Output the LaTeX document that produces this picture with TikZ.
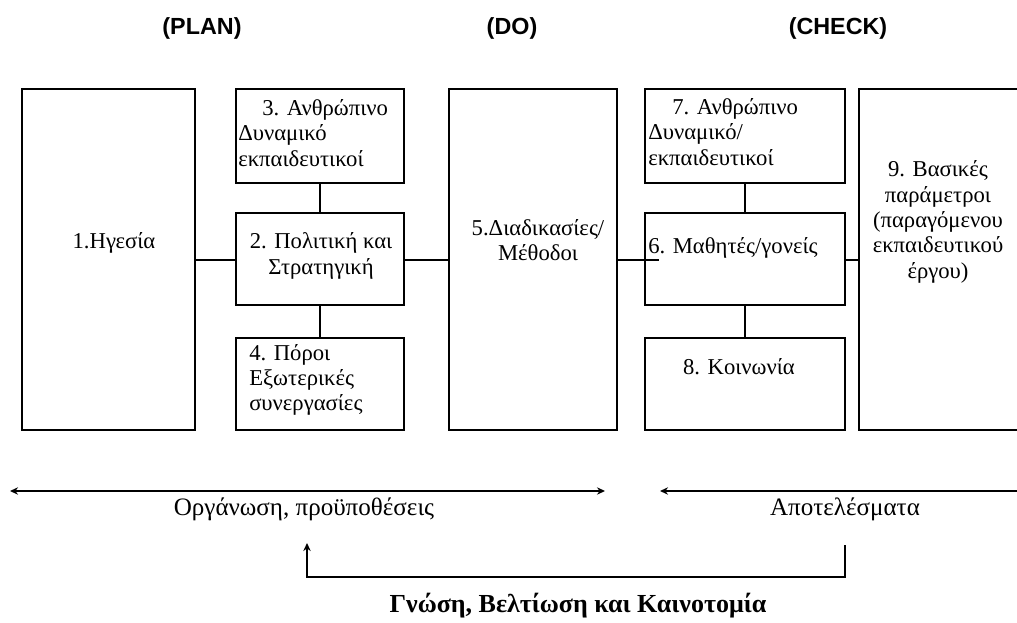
\documentclass[tikz,border=0pt]{standalone}
\usepackage{fontspec}
\setmainfont{Liberation Serif}
\newfontfamily\hdrfont{Liberation Sans}
\usetikzlibrary{arrows.meta}
\begin{document}
\begin{tikzpicture}[x=0.75pt,y=-0.75pt,
  box/.style 2 args={draw, line width=1.3pt, rectangle, inner sep=0pt,
     minimum width=#1*0.75pt, minimum height=#2*0.75pt},
  txt/.style={inner sep=0pt, font=\fontsize{17}{19}\selectfont},
  lbl/.style={inner sep=0pt, font=\fontsize{18.8}{21}\selectfont},
  hdr/.style={inner sep=0pt, font=\hdrfont\bfseries\fontsize{17.5}{20}\selectfont},
  conn/.style={line width=1.4pt},
  arr/.style={line width=1.3pt, -{Stealth[length=6pt,width=5.5pt]}},
  darr/.style={line width=1.3pt, {Stealth[length=6pt,width=5.5pt]}-{Stealth[length=6pt,width=5.5pt]}}
]
\useasboundingbox (0,0) rectangle (1017,623);
\clip (0,0) rectangle (1017,623);
% headers
\node[hdr] (hplan) at (202,28) {(PLAN)};
\node[hdr] (hdo) at (512,28) {(DO)};
\node[hdr] (hcheck) at (838,28) {(CHECK)};
% boxes
\node[box={173}{341}] (b1) at (108.5,259.5) {};
\node[box={168}{94}] (b3) at (320,136) {};
\node[box={168}{92}] (b2) at (320,259) {};
\node[box={168}{92}] (b4) at (320,384) {};
\node[box={168}{341}] (b5) at (533,259.5) {};
\node[box={200}{94}] (b7) at (745,136) {};
\node[box={200}{92}] (b6) at (745,259) {};
\node[box={200}{92}] (b8) at (745,384) {};
\node[box={200}{341}, anchor=west] (b9) at (858,259.5) {};
% texts
\node[txt] (t1) at (114,243) {1.Ηγεσία};
\node[txt, align=left, anchor=west] (t3) at (238,133) {\hspace*{18pt}3. Ανθρώπινο\\Δυναμικό\\εκπαιδευτικοί};
\node[txt, align=center] (t2) at (321,256) {2. Πολιτική και\\Στρατηγική};
\node[txt, align=left, anchor=west] (t4) at (249,380) {4. Πόροι\\Εξωτερικές\\συνεργασίες};
\node[txt, align=center] (t5) at (538,240) {5.Διαδικασίες/\\Μέθοδοι};
\node[txt, align=left, anchor=west] (t7) at (648,132) {\hspace*{18pt}7. Ανθρώπινο\\Δυναμικό/\\εκπαιδευτικοί};
\node[txt, anchor=west] (t6) at (648,248) {6. Μαθητές/γονείς};
\node[txt] (t8) at (739,367) {8. Κοινωνία};
\node[txt, align=center] (t9) at (938,222) {9. Βασικές\\παράμετροι\\(παραγόμενου\\εκπαιδευτικού\\έργου)};
% connectors
\draw[conn] (b1.east |- 0,260) -- (b2.west |- 0,260);
\draw[conn] (b2.east |- 0,260) -- (b5.west |- 0,260);
\draw[conn] (b5.east |- 0,260) -- ([xshift=11pt]b6.west |- 0,260);
\draw[conn] (b6.east |- 0,260) -- (b9.west |- 0,260);
\draw[conn] (b3.south) -- (b2.north);
\draw[conn] (b2.south) -- (b4.north);
\draw[conn] (b7.south) -- (b6.north);
\draw[conn] (b6.south) -- (b8.north);
% bottom arrows
\coordinate (l1) at (10,491);
\coordinate (l2) at (605,491);
\coordinate (r1) at (660,491);
\coordinate (r2) at (1020,491);
\draw[darr] (l1) -- (l2);
\draw[arr] (r2) -- (r1);
\node[lbl] (org) at (304,509) {Οργάνωση, προϋποθέσεις};
\node[lbl] (apo) at (845,509) {Αποτελέσματα};
\coordinate (f1) at (845,545);
\coordinate (f2) at (307,543);
\draw[arr] (f1) -- (845,577) -- (307,577) -- (f2);
\node[inner sep=0pt, font=\bfseries\fontsize{19.5}{22}\selectfont] (gn) at (578,606) {Γνώση, Βελτίωση και Καινοτομία};
\end{tikzpicture}
\end{document}
